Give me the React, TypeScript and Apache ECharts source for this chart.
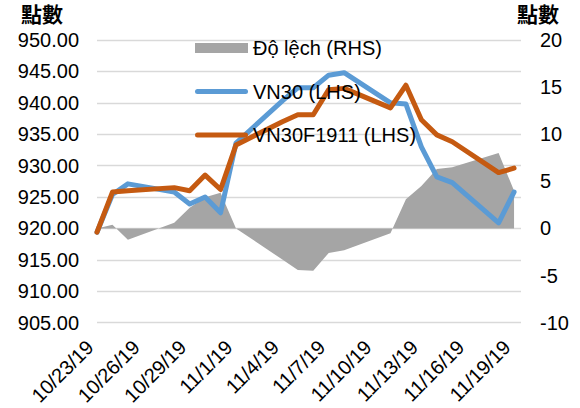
import React, { useEffect, useRef } from "react";
import * as echarts from "echarts";

// Trading dates (month/day, 2019)
const tradeDates = [
  "10/23", "10/24", "10/25", "10/28", "10/29", "10/30", "10/31", "11/1",
  "11/4", "11/5", "11/6", "11/7", "11/8", "11/11", "11/12", "11/13",
  "11/14", "11/15", "11/18", "11/19",
];
const vn30 = [
  919.4, 925.4, 927.1, 925.8, 923.9, 925.0, 922.5, 933.6,
  940.3, 942.4, 942.4, 944.4, 944.8, 940.0, 939.8, 933.0,
  928.2, 927.3, 920.9, 925.8,
];
const vn30f1911 = [
  919.4, 925.8, 926.0, 926.5, 926.0, 928.5, 926.2, 933.3,
  937.0, 938.1, 938.1, 942.1, 942.3, 939.2, 942.8, 937.3,
  934.9, 933.8, 928.9, 929.6,
];
const deviation = [
  0.0, 0.4, -1.2, 0.6, 2.2, 3.3, 3.8, 0.0,
  -3.3, -4.4, -4.5, -2.6, -2.3, -0.5, 3.1, 4.5,
  6.3, 6.5, 8.0, 4.0,
];
const tickLabels = [
  "10/23/19", "10/26/19", "10/29/19", "11/1/19", "11/4/19",
  "11/7/19", "11/10/19", "11/13/19", "11/16/19", "11/19/19",
];
const seriesNames = ["Độ lệch (RHS)", "VN30 (LHS)", "VN30F1911 (LHS)"];

const BASE = Date.UTC(2019, 9, 23);
const dayIndex = (md: string) => {
  const [m, d] = md.split("/").map(Number);
  return Math.round((Date.UTC(2019, m - 1, d) - BASE) / 86400000);
};
const days = tradeDates.map(dayIndex);
const pairs = (vals: number[]) => vals.map((v, i) => [days[i], v]);

const FONT = "'Liberation Sans', Arial, sans-serif";
const LINE_ICON =
  "path://M2.5,0 L50.5,0 A2.5,2.5 0 0 1 50.5,5 L2.5,5 A2.5,2.5 0 0 1 2.5,0 Z";

export default function App() {
  const ref = useRef<HTMLDivElement>(null);
  useEffect(() => {
    document.body.style.margin = "0";
    const chart = echarts.init(ref.current!, null, { renderer: "svg" });
    chart.setOption({
      animation: false,
      textStyle: { fontFamily: FONT },
      grid: { left: 97, right: 59, top: 40, bottom: 84.5 },
      legend: {
        orient: "vertical",
        left: 190,
        top: 33,
        itemWidth: 53,
        itemHeight: 10,
        itemGap: 23.5,
        symbolKeepAspect: true,
        textStyle: { fontSize: 20, color: "#000", fontFamily: FONT, lineHeight: 20 },
        data: [
          { name: seriesNames[0], icon: "rect" },
          { name: seriesNames[1], icon: LINE_ICON },
          { name: seriesNames[2], icon: LINE_ICON },
        ],
      },
      xAxis: {
        type: "value",
        min: 0,
        max: 27.45,
        interval: 3,
        axisLine: { show: false },
        axisTick: { show: false },
        splitLine: { show: false },
        axisLabel: {
          rotate: 45,
          fontSize: 20,
          color: "#000",
          margin: 14,
          padding: [0, 10, 0, 0],
          showMaxLabel: false,
          formatter: (v: number) => {
            const k = v / 3;
            return Number.isInteger(k) && tickLabels[k] ? tickLabels[k] : "";
          },
        },
      },
      yAxis: [
        {
          type: "value",
          min: 905,
          max: 950,
          interval: 5,
          axisLine: { show: false },
          axisTick: { show: false },
          splitLine: { lineStyle: { color: "#D9D9D9", width: 1.3 } },
          axisLabel: {
            fontSize: 20,
            color: "#000",
            margin: 18,
            formatter: (v: number) => v.toFixed(2),
          },
        },
        {
          type: "value",
          min: -10,
          max: 20,
          interval: 5,
          position: "right",
          axisLine: { show: false },
          axisTick: { show: false },
          splitLine: { show: false },
          axisLabel: { fontSize: 20, color: "#000", margin: 19 },
        },
      ],
      graphic: [
        {
          type: "text",
          x: 21,
          y: 13,
          style: {
            text: "點數",
            fontSize: 21,
            fontWeight: "bold",
            fontFamily: "'Noto Sans CJK TC'",
            fill: "#000",
            align: "left",
            verticalAlign: "middle",
          },
        },
        {
          type: "text",
          x: 517,
          y: 13,
          style: {
            text: "點數",
            fontSize: 21,
            fontWeight: "bold",
            fontFamily: "'Noto Sans CJK TC'",
            fill: "#000",
            align: "left",
            verticalAlign: "middle",
          },
        },
      ],
      series: [
        {
          name: seriesNames[0],
          type: "line",
          yAxisIndex: 1,
          data: pairs(deviation),
          symbol: "none",
          lineStyle: { width: 0 },
          itemStyle: { color: "#A5A5A5" },
          areaStyle: { color: "#A5A5A5", opacity: 1 },
          z: 1,
        },
        {
          name: seriesNames[1],
          type: "line",
          data: pairs(vn30),
          symbol: "none",
          itemStyle: { color: "#5B9BD5" },
          lineStyle: { color: "#5B9BD5", width: 5, cap: "round", join: "round" },
          z: 2,
        },
        {
          name: seriesNames[2],
          type: "line",
          data: pairs(vn30f1911),
          symbol: "none",
          itemStyle: { color: "#C55A11" },
          lineStyle: { color: "#C55A11", width: 5, cap: "round", join: "round" },
          z: 3,
        },
      ],
    });
    return () => chart.dispose();
  }, []);
  return <div ref={ref} style={{ width: 580, height: 408 }} />;
}
